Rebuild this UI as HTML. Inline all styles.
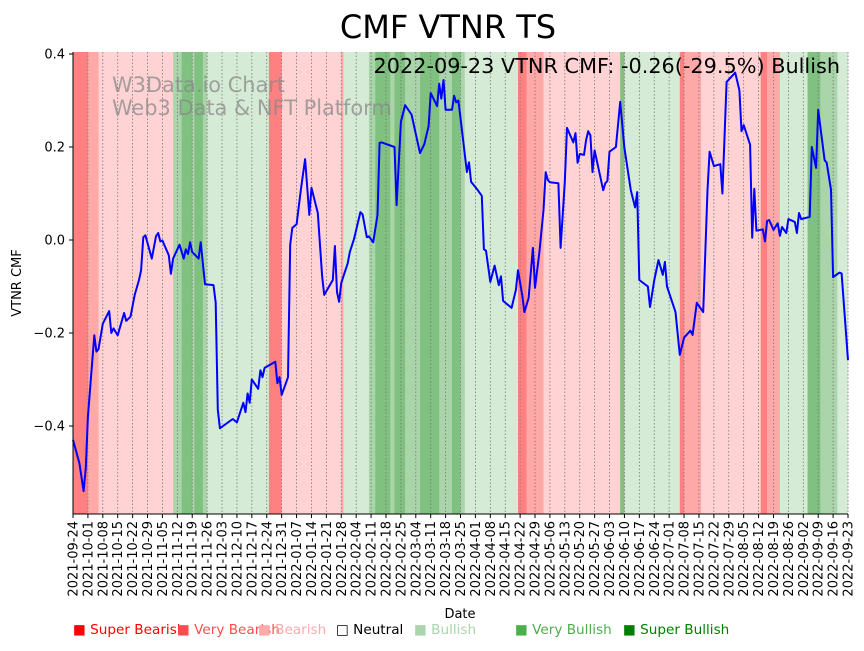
<!DOCTYPE html>
<html><head><meta charset="utf-8"><style>
body{margin:0;background:#fff;}
svg text{font-family:"DejaVu Sans","Liberation Sans",sans-serif;}
</style></head><body>
<svg id="chart" width="864" height="646" viewBox="0 0 864 646" xmlns="http://www.w3.org/2000/svg">
<g id="bands"></g>
<g id="grid"></g>
<text x="112" y="92" font-size="20.9" fill="#888" fill-opacity="0.75">W3Data.io Chart</text>
<text x="112" y="115" font-size="20.9" fill="#888" fill-opacity="0.75">Web3 Data &amp; NFT Platform</text>
<path id="line" fill="none" stroke="#0000ff" stroke-width="2" stroke-linejoin="round"/>
<line x1="73" y1="52" x2="73" y2="514" stroke="#000" stroke-width="1"/>
<line x1="73" y1="514" x2="848" y2="514" stroke="#000" stroke-width="1"/>
<g id="yticks"></g>
<g id="xticks"></g>
<text x="448" y="38" font-size="32" text-anchor="middle">CMF VTNR TS</text>
<text x="840" y="73" font-size="20.8" text-anchor="end">2022-09-23 VTNR CMF: -0.26(-29.5%) Bullish</text>
<text transform="translate(21,283) rotate(-90)" font-size="13" text-anchor="middle">VTNR CMF</text>
<text x="460" y="618" font-size="13" text-anchor="middle">Date</text>
<g id="legend"></g>
</svg>
<script>
const bandStart=[0,7,12,47,51,56,57,61,63,92,98,126,127,139,142,149,151,156,163,172,178,182,184,209,213,221,257,259,285,287,295,323,326,332,345,351,359];
const bandEnd=[7,12,47,51,56,57,61,63,92,98,126,127,139,142,149,151,156,163,172,178,182,184,209,213,221,257,259,285,287,295,323,326,332,345,351,359,364];
const bandState=[-3,-2,-1,2,3,2,3,2,1,-3,-1,-2,1,2,3,2,3,2,3,2,3,2,1,-3,-2,-1,3,1,-3,-2,-1,-3,-2,1,3,2,1];
const days=[0,3,5,6,7,10,11,12,14,17,18,19,21,24,25,27,29,31,32,33,34,37,39,40,41,42,45,46,47,50,52,53,54,55,56,59,60,62,66,67,68,69,75,77,80,81,82,83,84,87,88,89,90,95,96,97,98,101,102,103,105,107,108,109,111,112,115,117,118,122,123,124,125,126,129,130,132,135,136,138,139,141,143,144,145,151,152,154,156,159,163,165,167,168,171,172,173,174,175,178,179,180,181,183,185,186,187,190,192,193,194,196,198,200,201,202,206,208,209,211,212,214,216,217,219,221,222,223,224,228,229,231,232,235,236,237,238,240,241,242,243,244,245,249,250,251,252,255,257,259,262,264,265,266,270,271,273,275,277,278,279,283,285,287,290,291,293,296,298,299,301,304,305,307,309,311,313,314,315,318,319,320,321,324,325,326,327,329,331,332,333,335,336,339,340,341,342,346,347,349,350,353,354,356,357,360,361,364];
const values=[-0.43,-0.48,-0.54,-0.49,-0.38,-0.205,-0.24,-0.235,-0.18,-0.153,-0.2,-0.19,-0.205,-0.157,-0.174,-0.165,-0.118,-0.086,-0.065,0.006,0.01,-0.04,0.008,0.015,-0.003,-0.001,-0.033,-0.073,-0.04,-0.01,-0.04,-0.02,-0.03,-0.005,-0.026,-0.04,-0.005,-0.095,-0.097,-0.135,-0.365,-0.405,-0.385,-0.392,-0.35,-0.37,-0.33,-0.35,-0.3,-0.32,-0.28,-0.295,-0.275,-0.262,-0.308,-0.295,-0.333,-0.295,-0.01,0.026,0.034,0.107,0.14,0.174,0.054,0.112,0.058,-0.077,-0.118,-0.086,-0.013,-0.112,-0.133,-0.092,-0.05,-0.026,0.002,0.06,0.055,0.006,0.008,-0.005,0.054,0.209,0.21,0.2,0.075,0.254,0.29,0.27,0.187,0.206,0.245,0.316,0.288,0.336,0.304,0.344,0.28,0.28,0.31,0.296,0.3,0.224,0.146,0.167,0.125,0.108,0.095,-0.02,-0.023,-0.09,-0.055,-0.097,-0.078,-0.131,-0.146,-0.107,-0.065,-0.118,-0.155,-0.125,-0.017,-0.103,-0.028,0.064,0.146,0.129,0.124,0.122,-0.017,0.125,0.241,0.21,0.23,0.166,0.185,0.183,0.215,0.234,0.225,0.146,0.193,0.107,0.122,0.127,0.19,0.2,0.297,0.198,0.107,0.07,0.103,-0.086,-0.1,-0.144,-0.086,-0.043,-0.075,-0.047,-0.1,-0.155,-0.247,-0.21,-0.195,-0.204,-0.135,-0.155,0.107,0.19,0.159,0.163,0.1,0.34,0.35,0.36,0.322,0.234,0.247,0.205,0.005,0.11,0.02,0.023,-0.003,0.041,0.043,0.022,0.036,0.009,0.028,0.015,0.045,0.039,0.015,0.058,0.045,0.05,0.2,0.155,0.28,0.172,0.166,0.108,-0.08,-0.07,-0.072,-0.258];
const yTicks=[0.4,0.2,0.0,-0.2,-0.4];
const yTickLabels=["0.4","0.2","0.0","\u22120.2","\u22120.4"];
const legendLabels=["Super Bearish","Very Bearish","Bearish","Neutral","Bullish","Very Bullish","Super Bullish"];
const legendColors=["#ff0000","#ff4d4d","#ffaaaa","#000000","#aad5aa","#4caf4c","#008000"];

const X0=73,X1=848,NDAYS=364,Y0=240,YS=465;
const xs=d=>X0+(X1-X0)*d/NDAYS;
const ys=v=>Y0-v*YS;
const NS="http://www.w3.org/2000/svg";
const stateColor={"-3":"#ff8080","-2":"#ffa8a8","-1":"#ffd3d3","1":"#d5ebd5","2":"#aad5aa","3":"#80c080"};
function mk(tag,attrs,parent){const e=document.createElementNS(NS,tag);for(const k in attrs)e.setAttribute(k,attrs[k]);parent.appendChild(e);return e;}

const bands=document.getElementById('bands');
for(let i=0;i<bandStart.length;i++){
  const r=mk('rect',{x:xs(bandStart[i]),y:52,width:xs(bandEnd[i])-xs(bandStart[i])+0.3,height:462,fill:stateColor[bandState[i]]},bands);
  
  
}
const grid=document.getElementById('grid'),xt=document.getElementById('xticks');
const start=new Date(Date.UTC(2021,8,24));
for(let w=0;w<=52;w++){
  const x=xs(w*7);
  const g=mk('line',{x1:x,y1:52,x2:x,y2:514,stroke:'#777','stroke-width':0.8,'stroke-dasharray':'1.5,2'},grid);
  
  
  const tk=mk('line',{x1:x,y1:514,x2:x,y2:518,stroke:'#000'},xt);
  
  
  const d=new Date(start.getTime()+w*7*86400000);
  const t=mk('text',{transform:`translate(${x+4.5},521) rotate(-90)`,'font-size':13,'text-anchor':'end'},xt);
  t.textContent=d.toISOString().slice(0,10);
  
  
}
const yt=document.getElementById('yticks');
yTicks.forEach((v,i)=>{
  const y=ys(v);
  const tk=mk('line',{x1:69,y1:y,x2:73,y2:y,stroke:'#000'},yt);
  
  
  const t=mk('text',{x:65,y:y+4.5,'font-size':13,'text-anchor':'end'},yt);
  t.textContent=yTickLabels[i];
  
  
});
let dpath='';
days.forEach((d,i)=>{dpath+=(i?'L':'M')+xs(d).toFixed(1)+','+ys(values[i]).toFixed(1);});
document.getElementById('line').setAttribute('d',dpath);

const lg=document.getElementById('legend');
const lx=[73,177,258,336,414,515,623];
legendLabels.forEach((l,i)=>{
  const t=mk('text',{x:lx[i],y:634,'font-size':13.6,fill:legendColors[i]},lg);
  t.textContent=(i==3?'\u25A1 ':'\u25A0 ')+l;
  
  
});
</script>
</body></html>
